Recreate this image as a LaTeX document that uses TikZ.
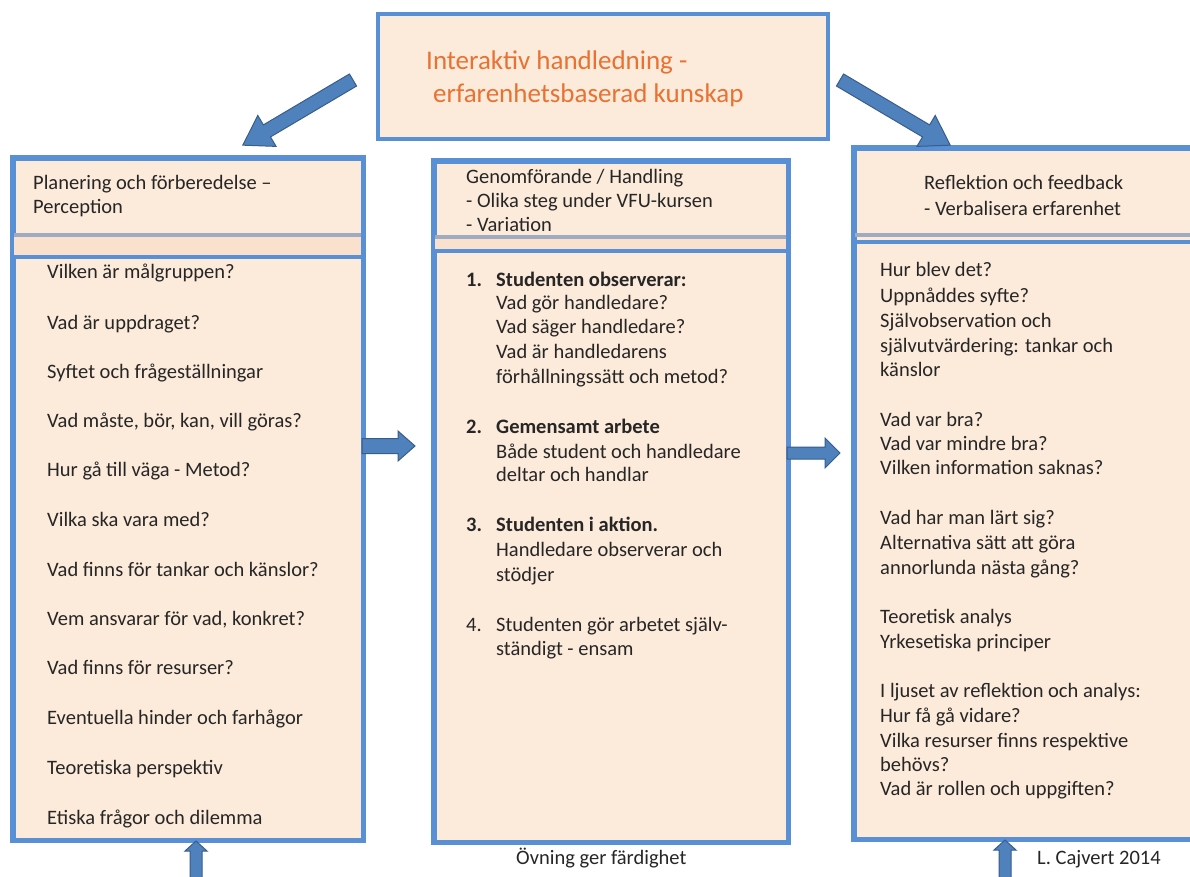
\documentclass[tikz,border=0pt]{standalone}
\usepackage{fontspec}
\setmainfont{Carlito}
\definecolor{peach}{RGB}{252,234,218}
\definecolor{peachband}{RGB}{250,225,205}
\definecolor{bord}{RGB}{88,143,213}
\definecolor{grayl}{RGB}{160,170,192}
\definecolor{arrfill}{RGB}{79,129,189}
\definecolor{arrdraw}{RGB}{56,93,138}
\definecolor{ttl}{RGB}{233,113,50}
\definecolor{txt}{RGB}{38,38,38}
\newcommand\blockarrow[7]{\begin{scope}[shift={(#1,#2)},rotate=#3]
 \draw[barrow] (0,-#5) -- ({#4-#7},-#5) -- ({#4-#7},-#6) -- (#4,0) -- ({#4-#7},#6) -- ({#4-#7},#5) -- (0,#5) -- cycle;
\end{scope}}
\begin{document}
\begin{tikzpicture}[x=1pt,y=-1pt,
 box/.style={draw=bord, line width=3.5pt, fill=peach, inner sep=0, anchor=north west},
 barrow/.style={fill=arrfill, draw=arrdraw, line width=1pt, line join=miter},
 txtnode/.style={anchor=base west, inner sep=0, text=txt, font=\fontsize{20.5}{24}\selectfont},
 grayline/.style={draw=grayl, line width=3.5pt},
 blueline/.style={draw=bord, line width=3.5pt}]
\useasboundingbox (0,0) rectangle (1190,876);
\fill[white] (0,0) rectangle (1190,876);

% top box
\node[box, minimum width=450pt, minimum height=125pt] (top) at (376,12) {};
\node[anchor=base west, inner sep=0, text=ttl, font=\fontsize{27}{32}\selectfont] (t1) at (426,69) {Interaktiv handledning -};
\node[anchor=base west, inner sep=0, text=ttl, font=\fontsize{27}{32}\selectfont] (t2) at (433,102) {erfarenhetsbaserad kunskap};

% left column
\node[box, minimum width=349pt, minimum height=681pt] (colL) at (12,157) {};
\fill[peachband] (12,237) rectangle (361,255);
\draw[grayline] (12,235) -- (361,235);
\draw[blueline] (12,257) -- (361,257);
\draw[draw=bord, line width=3.5pt] (colL.north west) rectangle (colL.south east);
\node[txtnode] (hL1) at (33,189) {Planering och förberedelse –};
\node[txtnode] (hL2) at (33,213) {Perception};
\foreach \yy/\t [count=\i] in {278/Vilken är målgruppen?, 329/Vad är uppdraget?, 378/Syftet och frågeställningar, 427/{Vad måste, bör, kan, vill göras?}, 476/Hur gå till väga - Metod?, 526/Vilka ska vara med?, 576/Vad finns för tankar och känslor?, 625/{Vem ansvarar för vad, konkret?}, 674/Vad finns för resurser?, 724/Eventuella hinder och farhågor, 774/Teoretiska perspektiv, 824/Etiska frågor och dilemma}
  \node[txtnode, name=L\i] at (47,\yy) {\t};

% middle column
\node[box, minimum width=353pt, minimum height=680pt] (colM) at (433,160) {};
\fill[peachband] (433,239) rectangle (786,249);
\draw[grayline] (433,237) -- (786,237);
\draw[blueline] (433,251) -- (786,251);
\draw[draw=bord, line width=3.5pt] (colM.north west) rectangle (colM.south east);
\node[txtnode] (hM1) at (466,183) {Genomförande / Handling};
\node[txtnode] (hM2) at (466,207) {- Olika steg under VFU-kursen};
\node[txtnode] (hM3) at (466,231) {- Variation};
\node[txtnode] (n1) at (466,286) {\textbf{1.}};
\node[txtnode] (n2) at (466,433) {\textbf{2.}};
\node[txtnode] (n3) at (466,531) {\textbf{3.}};
\node[txtnode] (n4) at (466,631) {4.};
\foreach \yy/\t [count=\i] in {286/\textbf{Studenten observerar:}, 309/Vad gör handledare?, 333/Vad säger handledare?, 358/Vad är handledarens, 383/förhållningssätt och metod?, 433/\textbf{Gemensamt arbete}, 458/Både student och handledare, 481/deltar och handlar, 531/\textbf{Studenten i aktion.}, 556/Handledare observerar och, 581/stödjer, 631/Studenten gör arbetet själv-, 655/ständigt - ensam}
  \node[txtnode, name=M\i] at (496,\yy) {\t};

% right column
\node[box, minimum width=345pt, minimum height=690pt] (colR) at (853,147) {};
\draw[grayline] (853,235) -- (1198,235);
\draw[blueline] (853,242) -- (1198,242);
\draw[draw=bord, line width=3.5pt] (colR.north west) rectangle (colR.south east);
\node[txtnode] (hR1) at (924,189) {Reflektion och feedback};
\node[txtnode] (hR2) at (924,215) {- Verbalisera erfarenhet};
\foreach \yy/\t [count=\i] in {276/Hur blev det?, 302/Uppnåddes syfte?, 327/Självobservation och, 352/självutvärdering: tankar och, 376/känslor, 426/Vad var bra?, 450/Vad var mindre bra?, 474/Vilken information saknas?, 524/Vad har man lärt sig?, 549/Alternativa sätt att göra, 574/annorlunda nästa gång?, 623/Teoretisk analys, 648/Yrkesetiska principer, 697/I ljuset av reflektion och analys:, 722/Hur få gå vidare?, 747/Vilka resurser finns respektive, 771/behövs?, 795/Vad är rollen och uppgiften?}
  \node[txtnode, name=R\i] at (880,\yy) {\t};

% bottom texts
\node[txtnode] (ovn) at (516,864) {Övning ger färdighet};
\node[txtnode] (auth) at (1037,864) {L. Cajvert 2014};

% arrows
\blockarrow{353}{80}{210.6}{128}{7}{18}{28}
\blockarrow{840}{80}{-30.6}{128}{7}{18}{28}
\blockarrow{362}{446}{0}{53}{7.5}{15}{17}
\blockarrow{787}{453}{0}{53}{6}{15}{15}
\blockarrow{196}{880}{90}{39}{6}{11}{10}
\blockarrow{1005}{880}{90}{40}{6}{11}{10}
\end{tikzpicture}
\end{document}
